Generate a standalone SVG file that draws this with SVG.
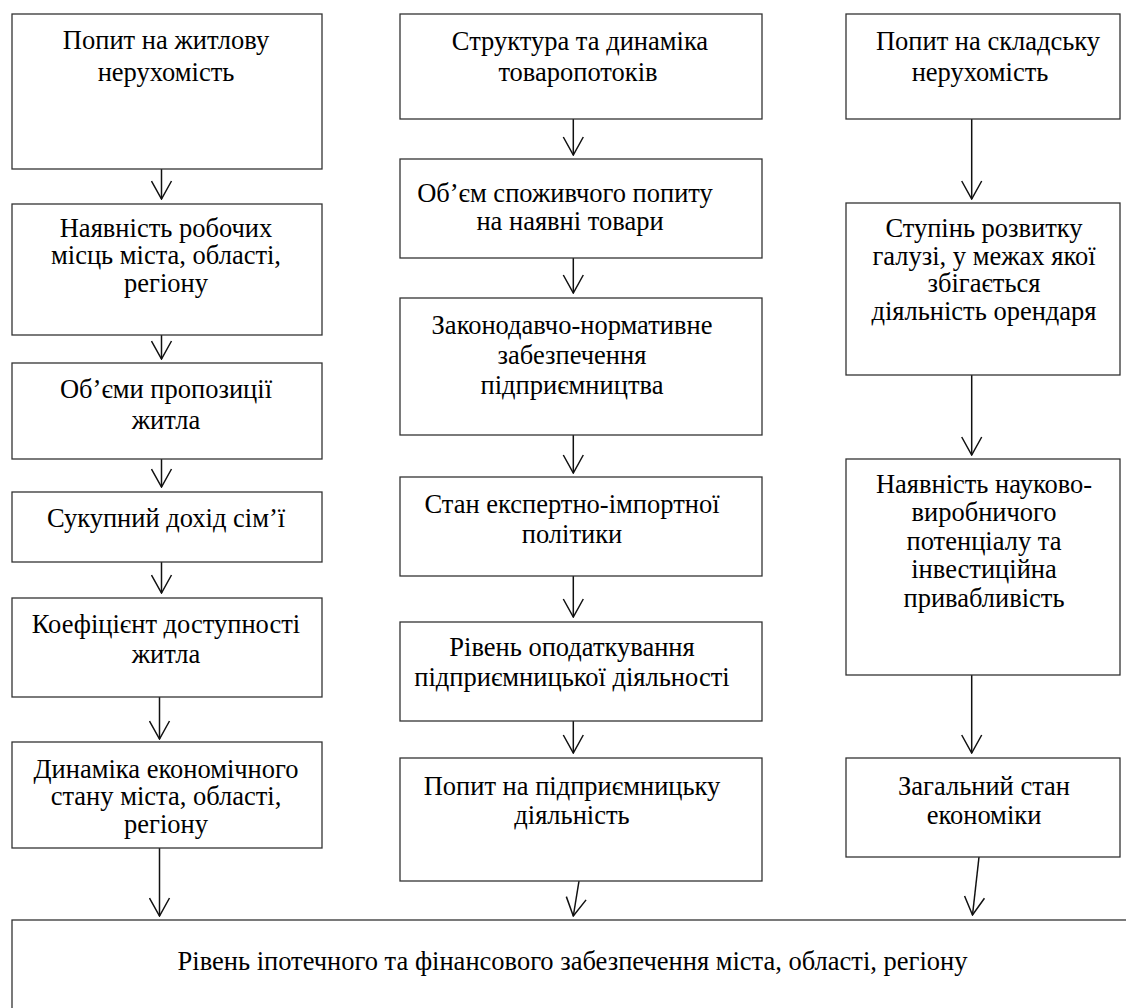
<svg xmlns="http://www.w3.org/2000/svg" width="1126" height="1008" viewBox="0 0 1126 1008">
<style>
.box{fill:#fff;stroke:#333;stroke-width:1.3}
.t{font-family:"Liberation Serif","Times New Roman",serif;font-size:26.5px;fill:#000;text-anchor:middle}
.c{fill:none;stroke:#111;stroke-width:1.5}
</style>
<defs>
<marker id="ah" viewBox="-19 -11 20 22" refX="0" refY="0" markerWidth="20" markerHeight="22" markerUnits="userSpaceOnUse" orient="auto">
<path d="M-18,-10 L0,0 L-18,10" fill="none" stroke="#111" stroke-width="1.5"/>
</marker>
</defs>
<rect width="1126" height="1008" fill="#fff"/>
<g id="connectors">
<line class="c" x1="161.5" y1="169" x2="161.5" y2="199" marker-end="url(#ah)"/>
<line class="c" x1="161.5" y1="335" x2="161.5" y2="359" marker-end="url(#ah)"/>
<line class="c" x1="161.5" y1="459" x2="161.5" y2="487" marker-end="url(#ah)"/>
<line class="c" x1="161.5" y1="562" x2="161.5" y2="593" marker-end="url(#ah)"/>
<line class="c" x1="159.5" y1="697" x2="159.5" y2="739" marker-end="url(#ah)"/>
<line class="c" x1="159.5" y1="848" x2="159.5" y2="916" marker-end="url(#ah)"/>
<line class="c" x1="573.3" y1="119" x2="573.3" y2="155" marker-end="url(#ah)"/>
<line class="c" x1="573.3" y1="258" x2="573.3" y2="293" marker-end="url(#ah)"/>
<line class="c" x1="573.3" y1="435" x2="573.3" y2="473" marker-end="url(#ah)"/>
<line class="c" x1="573.3" y1="576" x2="573.3" y2="617" marker-end="url(#ah)"/>
<line class="c" x1="573.3" y1="721" x2="573.3" y2="753" marker-end="url(#ah)"/>
<line class="c" x1="579" y1="881" x2="573.3" y2="916" marker-end="url(#ah)"/>
<line class="c" x1="971.7" y1="119" x2="971.7" y2="199" marker-end="url(#ah)"/>
<line class="c" x1="971.7" y1="375" x2="971.7" y2="455" marker-end="url(#ah)"/>
<line class="c" x1="971.7" y1="675" x2="971.7" y2="753" marker-end="url(#ah)"/>
<line class="c" x1="979" y1="857" x2="972.5" y2="915" marker-end="url(#ah)"/>
</g>
<g id="n_l1"><rect class="box" x="12" y="14" width="310" height="155"/>
<text class="t" x="166" y="49">Попит на житлову</text><text class="t" x="166" y="81">нерухомість</text></g>
<g id="n_l2"><rect class="box" x="12" y="204" width="310" height="131"/>
<text class="t" x="166" y="236.5">Наявність робочих</text><text class="t" x="166" y="264">місць міста, області,</text><text class="t" x="166" y="291.5">регіону</text></g>
<g id="n_l3"><rect class="box" x="12" y="363" width="310" height="96"/>
<text class="t" x="166" y="398">Об’єми пропозиції</text><text class="t" x="166" y="429">житла</text></g>
<g id="n_l4"><rect class="box" x="12" y="492" width="310" height="70"/>
<text class="t" x="166" y="527">Сукупний дохід сім’ї</text></g>
<g id="n_l5"><rect class="box" x="12" y="598" width="310" height="99"/>
<text class="t" x="166" y="633">Коефіцієнт доступності</text><text class="t" x="166" y="663">житла</text></g>
<g id="n_l6"><rect class="box" x="12" y="742" width="310" height="106"/>
<text class="t" x="166" y="777.5">Динаміка економічного</text><text class="t" x="166" y="805">стану міста, області,</text><text class="t" x="166" y="832.5">регіону</text></g>
<g id="n_m1"><rect class="box" x="400" y="14" width="362" height="105"/>
<text class="t" x="580" y="50">Структура та динаміка</text><text class="t" x="578" y="81">товаропотоків</text></g>
<g id="n_m2"><rect class="box" x="400" y="159" width="362" height="99"/>
<text class="t" x="565" y="202">Об’єм споживчого попиту</text><text class="t" x="570" y="230">на наявні товари</text></g>
<g id="n_m3"><rect class="box" x="400" y="298" width="362" height="137"/>
<text class="t" x="572" y="334">Законодавчо-нормативне</text><text class="t" x="572" y="364">забезпечення</text><text class="t" x="572" y="393.5">підприємництва</text></g>
<g id="n_m4"><rect class="box" x="400" y="477" width="362" height="99"/>
<text class="t" x="572" y="513">Стан експертно-імпортної</text><text class="t" x="572" y="543">політики</text></g>
<g id="n_m5"><rect class="box" x="400" y="622" width="362" height="99"/>
<text class="t" x="572" y="656">Рівень оподаткування</text><text class="t" x="572" y="686">підприємницької діяльності</text></g>
<g id="n_m6"><rect class="box" x="400" y="758" width="362" height="123"/>
<text class="t" x="572" y="795">Попит на підприємницьку</text><text class="t" x="572" y="824">діяльність</text></g>
<g id="n_r1"><rect class="box" x="846" y="14" width="274" height="105"/>
<text class="t" x="988" y="50">Попит на складську</text><text class="t" x="980" y="81">нерухомість</text></g>
<g id="n_r2"><rect class="box" x="846" y="203" width="274" height="172"/>
<text class="t" x="984" y="237">Ступінь розвитку</text><text class="t" x="984" y="264.5">галузі, у межах якої</text><text class="t" x="984" y="292">збігається</text><text class="t" x="984" y="319.5">діяльність орендаря</text></g>
<g id="n_r3"><rect class="box" x="846" y="459" width="274" height="216"/>
<text class="t" x="984" y="492.5">Наявність науково-</text><text class="t" x="984" y="521">виробничого</text><text class="t" x="984" y="549.5">потенціалу та</text><text class="t" x="984" y="578">інвестиційна</text><text class="t" x="984" y="606.5">привабливість</text></g>
<g id="n_r4"><rect class="box" x="846" y="758" width="274" height="99"/>
<text class="t" x="984" y="795">Загальний стан</text><text class="t" x="984" y="824">економіки</text></g>
<g id="n_bottom"><rect class="box" x="12" y="920" width="1130" height="100"/>
<text class="t" x="572.5" y="970">Рівень іпотечного та фінансового забезпечення міста, області, регіону</text></g>
</svg>
